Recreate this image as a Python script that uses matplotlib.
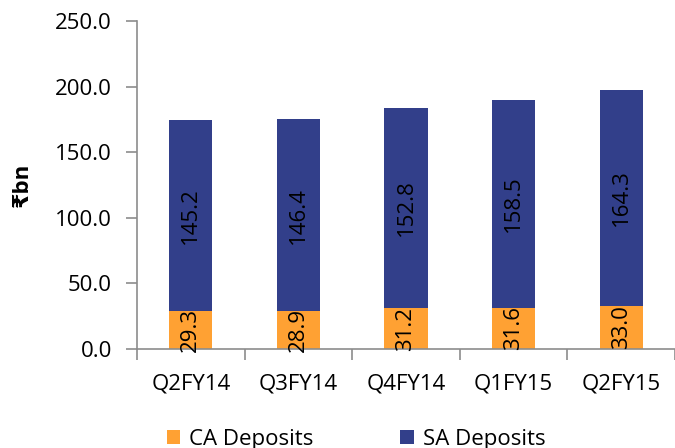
import numpy as np
import matplotlib.pyplot as plt
from matplotlib.ticker import FixedLocator

quarters = ["Q2FY14", "Q3FY14", "Q4FY14", "Q1FY15", "Q2FY15"]
ca_deposits = [29.3, 28.9, 31.2, 31.6, 33.0]
sa_deposits = [145.2, 146.4, 152.8, 158.5, 164.3]

plt.rcParams["font.family"] = ["Open Sans", "DejaVu Sans"]

ca_color = "#FFA133"
sa_color = "#323F8A"
axis_color = "#8C8C8C"
fs = 16

fig = plt.figure(figsize=(6.75, 4.48), dpi=100)
ax = fig.add_axes([0.203, 0.221, 0.797, 0.732])

x = np.arange(len(quarters))
w = 0.4
ca = np.array(ca_deposits)
sa = np.array(sa_deposits)

ax.bar(x, ca, width=w, color=ca_color, label="CA Deposits")
ax.bar(x, sa, width=w, bottom=ca, color=sa_color, label="SA Deposits")

for i in range(len(x)):
    ax.text(x[i], ca[i] / 2, f"{ca[i]:.1f}", rotation=90, ha="center", va="center",
            fontsize=fs, color="black", clip_on=False)
    ax.text(x[i], ca[i] + sa[i] / 2, f"{sa[i]:.1f}", rotation=90, ha="center",
            va="center", fontsize=fs, color="black")

ax.set_xlim(-0.5, len(quarters) - 0.5)
ax.set_ylim(0, 250)
ax.set_yticks(np.arange(0, 251, 50))
ax.set_yticklabels([f"{v:.1f}" for v in np.arange(0, 251, 50)], fontsize=fs)
ax.set_xticks(x)
ax.set_xticklabels(quarters, fontsize=fs)
ax.xaxis.set_minor_locator(FixedLocator(np.arange(-0.5, len(quarters), 1.0)))
ax.tick_params(axis="x", which="major", length=0, pad=18)
ax.tick_params(axis="x", which="minor", length=8, color=axis_color, width=1.2)
ax.tick_params(axis="y", length=8, color=axis_color, width=1.2, pad=10)

for s in ["top", "right"]:
    ax.spines[s].set_visible(False)
for s in ["left", "bottom"]:
    ax.spines[s].set_color(axis_color)
    ax.spines[s].set_linewidth(1.2)

ax.set_ylabel("₹bn", fontsize=fs, fontweight="bold", labelpad=16)

fig.legend(loc="lower left", bbox_to_anchor=(0.218, -0.048), ncol=2, frameon=False,
           fontsize=fs, handlelength=0.6, handleheight=0.6, handletextpad=0.4,
           columnspacing=3.9)

fig.savefig("out.png", dpi=100)
